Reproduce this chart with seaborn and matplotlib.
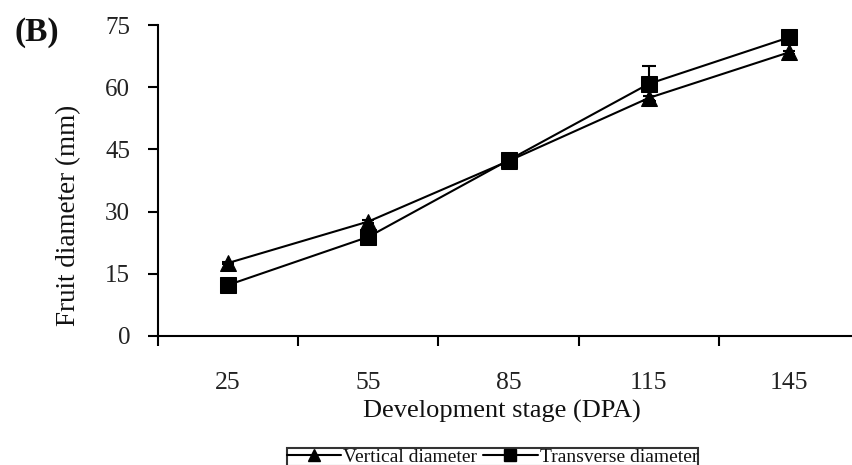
import matplotlib
matplotlib.use("Agg")
import matplotlib.pyplot as plt
import seaborn as sns
import pandas as pd
import numpy as np
from matplotlib.lines import Line2D

# ---- data ----
stages = ["25", "55", "85", "115", "145"]
vertical = [17.6, 27.6, 42.2, 57.4, 68.4]
transverse = [12.3, 23.9, 42.4, 60.8, 72.0]
transverse_err = [0.3, 0.3, 0.3, 4.2, 0.4]
vertical_err = [0.3, 0.3, 0.3, 0.4, 0.4]
series_names = ["Vertical diameter", "Transverse diameter"]
y_ticks = [0, 15, 30, 45, 60, 75]

sns.set_theme(style="white")
plt.rcParams["font.family"] = ["Liberation Serif", "DejaVu Serif"]

idx = np.arange(len(stages))
df = pd.DataFrame({
    "pos": np.concatenate([idx, idx]),
    "value": vertical + transverse,
    "series": [series_names[0]] * len(stages) + [series_names[1]] * len(stages),
})

fig = plt.figure(figsize=(8.52, 4.65), dpi=100)
ax = fig.add_axes([158 / 852, 1 - 336 / 465, 1 - 158 / 852, (336 - 25) / 465])

# error bars beneath markers
ax.errorbar(idx, vertical, yerr=vertical_err, fmt="none", ecolor="black",
            elinewidth=1.5, capsize=4, capthick=1.5, zorder=2)
ax.errorbar(idx, transverse, yerr=transverse_err, fmt="none", ecolor="black",
            elinewidth=1.5, capsize=5, capthick=1.5, zorder=2)

sns.lineplot(data=df, x="pos", y="value", style="series",
             markers={series_names[0]: "^", series_names[1]: "s"},
             dashes=False, color="black", linewidth=1.5, markersize=12,
             markeredgecolor="black", legend=False, ax=ax, zorder=3)

ax.set_xlim(-0.5, 4.45)
ax.set_ylim(0, 75)

for s in ["top", "right"]:
    ax.spines[s].set_visible(False)
for s in ["left", "bottom"]:
    ax.spines[s].set_color("black")
    ax.spines[s].set_linewidth(1.5)

ax.set_yticks(y_ticks)
ax.set_yticklabels([str(v) for v in y_ticks])
ax.tick_params(axis="y", direction="out", length=7, width=1.5, color="black",
               left=True, labelsize=18, pad=13, labelcolor="#222222")

# major ticks between categories (Excel style), labels on minor ticks at categories
ax.set_xticks(np.arange(-0.5, 4.0, 1.0))
ax.set_xticklabels([""] * 5)
ax.set_xticks(idx, minor=True)
ax.set_xticklabels(stages, minor=True)
ax.tick_params(axis="x", which="major", direction="out", length=7, width=1.5,
               color="black", bottom=True)
ax.tick_params(axis="x", which="minor", length=0, labelsize=18.5, pad=26,
               labelcolor="#222222", bottom=True)

ax.set_xlabel("Development stage (DPA)", fontsize=19, color="#111111")
ax.xaxis.set_label_coords((502 - 158) / 694, (336 - 400) / 311)
ax.set_ylabel("Fruit diameter (mm)", fontsize=19.5, color="#111111")
ax.yaxis.set_label_coords((81 - 158) / 694, (336 - 215) / 311)

fig.text(37 / 852, 1 - 33 / 465, "(B)", fontsize=24, fontweight="bold",
         ha="center", va="center", color="#111111")

handles = [
    Line2D([], [], color="black", marker="^", markersize=8, linewidth=1.5),
    Line2D([], [], color="black", marker="s", markersize=8, linewidth=1.5),
]
leg = fig.legend(handles, series_names, loc="upper left",
                 bbox_to_anchor=(287 / 852, 1 - 448 / 465), ncol=2,
                 frameon=True, fancybox=False, edgecolor="black",
                 fontsize=14, handlelength=2.8, handletextpad=0.1,
                 columnspacing=0.3, borderpad=0.0, borderaxespad=0)
leg.get_frame().set_linewidth(1.5)
for t in leg.get_texts():
    t.set_color("#111111")

fig.savefig("out.png", dpi=100, facecolor="white")
